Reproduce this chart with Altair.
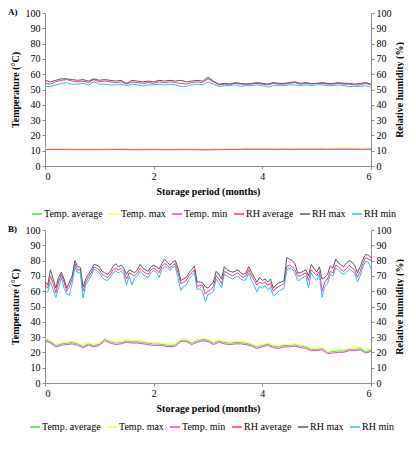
"""Temperatura y humedad relativa durante el almacenamiento (paneles A y B)."""

import altair as alt
import numpy as np
import pandas as pd

SERIES = ["Temp. average", "Temp. max", "Temp. min", "RH average", "RH max", "RH min"]
COLORS = ["#44dd44", "#ffff44", "#dd44dd", "#ff3377", "#555a66", "#33bbf0"]
FONT = "Liberation Serif"

# --- Panel A ---
a_temp_months = np.round(np.arange(31) * 0.2, 2)
a_temp_avg = [11, 11.1, 11, 11, 10.9, 11, 11, 11.1, 11, 10.9, 11, 10.9, 10.9, 11, 10.9, 10.8,
              11, 11.1, 11.1, 11.2, 11.2, 11.1, 11.2, 11.1, 11.2, 11.2, 11.1, 11.2, 11.2, 11.1, 11.2]
a_temp_max = [11.4, 11.5, 11.4, 11.4, 11.3, 11.4, 11.5, 11.5, 11.4, 11.3, 11.4, 11.3, 11.3, 11.4, 11.3, 11.2,
              11.4, 11.5, 11.6, 11.8, 11.7, 11.6, 11.8, 11.7, 11.7, 11.8, 11.7, 11.8, 11.9, 11.7, 11.8]
a_temp_min = [10.7, 10.8, 10.7, 10.7, 10.6, 10.7, 10.7, 10.8, 10.6, 10.6, 10.7, 10.6, 10.6, 10.7, 10.6, 10.5,
              10.7, 10.8, 10.8, 10.9, 10.9, 10.8, 10.8, 10.8, 10.9, 10.9, 10.8, 10.9, 10.9, 10.8, 10.9]

a_rh_months = np.round(np.arange(61) * 0.1, 2)
a_rh_avg = [54, 53.5, 55, 56, 56.5, 55.5, 55, 55.5, 54.5, 56.5,
            55, 55.5, 55, 54.5, 55, 53.5, 55, 54.5, 54, 54.5,
            54, 55, 54.5, 55, 54.5, 54, 53.5, 54.5, 55, 54.5,
            57, 55, 53, 53.5, 53.5, 54, 53.5, 53.5, 53.5, 54,
            53.5, 53, 54, 53.5, 53.5, 54, 54.5, 53.5, 54, 53.5,
            54, 54, 53.5, 53.5, 54, 53.5, 53.5, 53, 53, 54, 53]
a_rh_max = [56, 55, 56, 57, 57, 56.5, 56, 56.5, 55.5, 57,
            56, 56.5, 56, 55.5, 56, 54, 56, 55.5, 55, 55.5,
            55, 56, 55.5, 56, 55.5, 56, 55, 55.5, 56, 55.5,
            58, 55.5, 53.5, 54, 53.5, 54.5, 54, 53.5, 54, 54.5,
            54, 53.5, 54.5, 54, 54, 54.5, 55, 54, 54.5, 54,
            54, 54.5, 54, 54, 54.5, 54, 54, 53.5, 54, 54.5, 53.5]
a_rh_min = [52, 52, 53, 54, 54.5, 53.5, 53.5, 54, 53, 55,
            53.5, 53.5, 53, 53, 53.5, 52.5, 53.5, 53, 52.5, 53,
            53, 53.5, 53, 53.5, 53, 52, 52, 53, 53.5, 53,
            55, 53.5, 52, 52.5, 52.5, 53, 52, 52.5, 52.5, 53,
            52.5, 51.5, 52.5, 52.5, 52.5, 53, 53, 52.5, 53, 52.5,
            53, 53, 52.5, 52.5, 53, 52.5, 52, 52, 52, 52.5, 51.5]

# --- Panel B ---
b_temp_months = np.round(np.arange(61) * 0.1, 2)
b_temp_avg = [28.5, 27, 24.5, 25.5, 26, 26.5, 25.5, 24, 25.5, 24.5,
              25.5, 28.5, 27, 26, 26.5, 27.5, 27, 27, 26.5, 26,
              25.5, 25.5, 25, 24.5, 25, 28, 28, 26, 27.5, 28.5,
              28, 26, 27.5, 26.5, 26, 26.5, 26.5, 26, 25, 23.5,
              24.5, 25.5, 24, 23.5, 24.5, 24.5, 25, 24, 23.5, 22,
              22, 22.5, 20, 20.5, 21, 21, 22, 22, 22.5, 20.5, 21.5]
b_temp_max = [29.5, 28, 25.3, 26.3, 26.8, 27.3, 26.3, 24.8, 26.3, 25.3,
              26.3, 29.3, 27.8, 26.8, 27.3, 28.3, 27.8, 27.8, 27.3, 26.8,
              26.3, 26.3, 25.8, 25.3, 25.8, 28.8, 28.8, 26.8, 28.3, 29.3,
              28.8, 26.8, 28.3, 27.3, 26.8, 27.3, 27.3, 26.8, 25.8, 24.3,
              25.3, 26.3, 24.8, 24.3, 25.3, 25.3, 25.8, 24.8, 24.3, 22.8,
              22.8, 23.3, 20.8, 21.3, 21.8, 21.8, 22.8, 22.8, 23.3, 21.3, 22.5]
b_temp_min = [27.5, 26.2, 23.6, 24.6, 25.1, 25.6, 24.6, 23.1, 24.6, 23.6,
              24.6, 27.6, 26.1, 25.1, 25.6, 26.6, 26.1, 26.1, 25.6, 25.1,
              24.6, 24.6, 24.1, 23.6, 24.1, 27.1, 27.1, 25.1, 26.6, 27.6,
              27.1, 25.1, 26.6, 25.6, 25.1, 25.6, 25.6, 25.1, 24.1, 22.6,
              23.6, 24.6, 23.1, 22.6, 23.6, 23.6, 24.1, 23.1, 22.6, 21.1,
              21.1, 21.6, 19.1, 19.6, 20.1, 20.1, 21.1, 21.1, 21.6, 19.6, 20.6]

b_rh_months = np.round(np.arange(121) * 0.05, 2)
b_rh_avg = [64, 62, 70, 65, 59, 66, 71, 66, 60, 63,
            68, 78, 74, 74, 60, 66, 69, 72, 76, 75,
            74, 71, 70, 69, 71, 74, 75, 74, 75, 73,
            68, 72, 71, 70, 72, 75, 73, 72, 71, 74,
            75, 74, 72, 76, 78, 77, 75, 77, 78, 72,
            65, 66, 67, 70, 72, 74, 63, 64, 64, 58,
            60, 61, 63, 70, 68, 65, 73, 72, 71, 70,
            71, 72, 70, 69, 70, 74, 70, 67, 64, 66,
            65, 66, 64, 65, 60, 62, 63, 64, 65, 76,
            77, 76, 74, 70, 70, 71, 72, 67, 74, 72,
            70, 73, 60, 66, 68, 73, 72, 77, 76, 74,
            73, 75, 77, 75, 74, 69, 73, 78, 82, 81, 80]
b_rh_max = [66, 64, 74, 68, 62, 69, 72.5, 68, 62, 66,
            70, 80, 76, 75.5, 63, 68, 71, 74, 77.5, 77,
            76, 73, 72, 71, 73, 76, 78, 76, 77, 75,
            71, 74, 73, 72, 74, 77.5, 75, 74, 73, 76,
            77, 76, 74.5, 78, 81, 79, 77, 79, 80, 75,
            67, 68, 69, 72, 74, 76.5, 66, 66, 65.5, 63,
            62, 64, 66, 73, 71, 68, 76, 74, 73, 72.5,
            73, 74, 72, 71, 72, 76, 72.5, 69, 66, 69,
            67, 68, 66, 68, 62, 64, 65.5, 66, 67, 82,
            81, 80, 78, 72, 72, 73, 74, 70, 77.5, 75,
            72.5, 76, 68, 69, 71, 76.5, 75, 81, 78.5, 77,
            76, 78.5, 80, 79, 77, 72, 76, 80.5, 84, 83.5, 82]
b_rh_min = [59, 59.5, 66, 61, 56, 62, 69, 62, 58, 57.5,
            65, 76, 72, 72, 55.5, 64, 67, 70, 74.5, 73.5,
            72, 69, 67.5, 67, 69, 72, 73, 72, 73, 71,
            64, 70, 64, 68.5, 70, 73, 71, 70, 69, 72,
            73.5, 72.5, 69, 74, 76, 75.5, 73.5, 75.5, 76, 68,
            60.5, 63, 64, 67.5, 70, 72, 61, 61.5, 60, 53,
            58, 58.5, 60, 68, 65, 62.5, 71, 70, 69, 68,
            69, 70, 68, 67, 67.5, 72, 67, 64, 59.5, 63,
            62, 63.5, 61, 62.5, 57, 58, 60, 61, 62, 74,
            75, 74.5, 72, 67, 67.5, 69, 70, 62, 72, 69,
            67, 71, 56, 63, 65, 71, 70, 75, 74, 72,
            71, 72.5, 74.5, 73, 72, 66, 70, 76, 79.5, 79, 74.5]


def long_df(months, names, columns):
    frames = [pd.DataFrame({"month": months, "value": col, "series": name})
              for name, col in zip(names, columns)]
    return pd.concat(frames, ignore_index=True)


def build_panel(tag, temp_df, rh_df, rh_title, legend_x, legend_y):
    x = alt.X(
        "month:Q",
        scale=alt.Scale(domain=[0, 6], nice=False),
        axis=alt.Axis(values=[0, 2, 4, 6], title="Storage period (months)",
                      titlePadding=5),
    )
    color = alt.Color(
        "series:N",
        scale=alt.Scale(domain=SERIES, range=COLORS),
        title=None,
        legend=alt.Legend(
            orient="none", legendX=legend_x, legendY=legend_y,
            direction="horizontal", symbolType="stroke", symbolSize=100,
            symbolStrokeWidth=1.5, labelFont=FONT, labelFontSize=10,
            labelColor="#000000", labelOffset=1, columnPadding=3, padding=0,
        ),
    )
    temp = (
        alt.Chart(temp_df)
        .mark_line(strokeWidth=1)
        .encode(
            x=x,
            y=alt.Y("value:Q", scale=alt.Scale(domain=[0, 100]),
                    axis=alt.Axis(orient="left", values=list(range(0, 101, 10)),
                                  title="Temperature (°C)", titlePadding=5)),
            color=color,
        )
    )
    rh = (
        alt.Chart(rh_df)
        .mark_line(strokeWidth=1)
        .encode(
            x=x,
            y=alt.Y("value:Q", scale=alt.Scale(domain=[0, 100]),
                    axis=alt.Axis(orient="right", values=list(range(0, 101, 10)),
                                  title=rh_title, titleAngle=270,
                                  titleBaseline="top", titlePadding=3)),
            color=color,
        )
    )
    label = (
        alt.Chart(pd.DataFrame({"tag": [tag]}))
        .mark_text(align="left", baseline="middle", font=FONT,
                   fontWeight="bold", fontSize=9, color="#000000")
        .encode(text="tag:N", x=alt.value(-37), y=alt.value(-1))
    )
    return (
        alt.layer(temp, rh, label)
        .resolve_scale(y="independent")
        .properties(width=326, height=153)
    )


panel_a = build_panel(
    "A)",
    long_df(a_temp_months, SERIES[:3], [a_temp_avg, a_temp_max, a_temp_min]),
    long_df(a_rh_months, SERIES[3:], [a_rh_avg, a_rh_max, a_rh_min]),
    "Relative humidity (%)", -14, 195,
)
panel_b = build_panel(
    "B)",
    long_df(b_temp_months, SERIES[:3], [b_temp_avg, b_temp_max, b_temp_min]),
    long_df(b_rh_months, SERIES[3:], [b_rh_avg, b_rh_max, b_rh_min]),
    "Relative humidity  (%)", -16, 191,
)

chart = (
    alt.vconcat(panel_a, panel_b, spacing=6)
    .resolve_scale(color="independent")
    .resolve_legend(color="independent")
    .properties(padding={"left": 0, "top": 0, "right": 0, "bottom": 0})
    .configure_view(stroke=None)
    .configure_axis(
        grid=False,
        labelFont=FONT, labelFontSize=10, labelColor="#000000", labelPadding=2,
        titleFont=FONT, titleFontSize=10, titleFontWeight="bold", titleColor="#000000",
        domainColor="#8c8c8c", tickColor="#8c8c8c", tickSize=3,
    )
)

chart.save("out.html", embed_options={"renderer": "svg", "actions": False})
